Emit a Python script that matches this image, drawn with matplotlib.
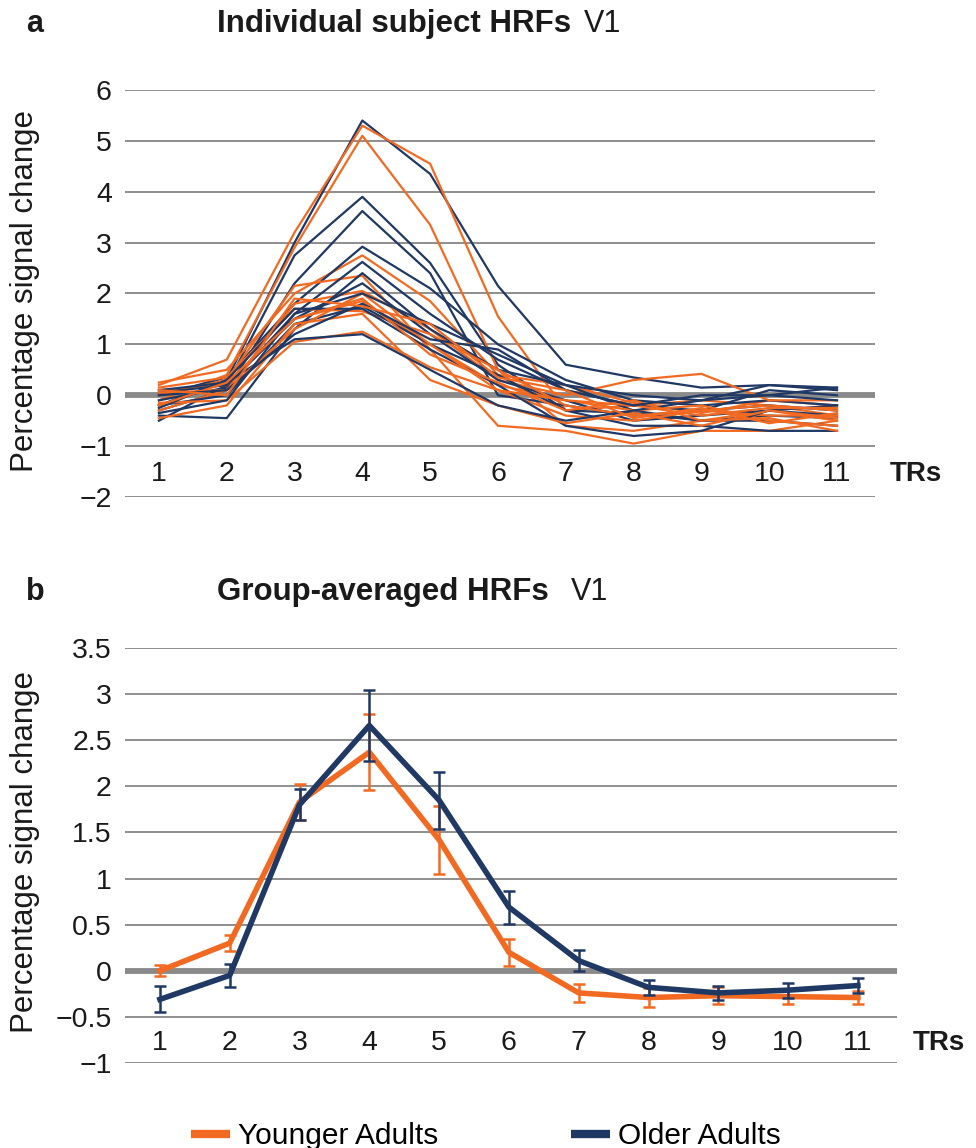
import matplotlib
matplotlib.use("Agg")
import matplotlib.pyplot as plt
from matplotlib.lines import Line2D

plt.rcParams['font.family'] = ['Liberation Sans', 'DejaVu Sans']

ORANGE = '#f26a21'
NAVY = '#1f3864'
GRID = '#8e8e8e'

trs = list(range(1, 12))
tr_labels = [str(t) for t in trs]

# panel a - individual subjects (approximate)
older_subjects = [
    [-0.20, 0.30, 3.00, 5.40, 4.35, 2.15, 0.60, 0.35, 0.15, 0.20, 0.15],
    [-0.50, 0.20, 2.75, 3.90, 2.60, 0.60, -0.30, -0.35, -0.50, -0.40, -0.45],
    [-0.30, 0.10, 2.20, 3.62, 2.40, 0.00, -0.20, -0.40, -0.30, -0.20, -0.30],
    [0.00, 0.35, 1.80, 2.92, 2.10, 1.00, 0.30, -0.10, -0.20, -0.10, -0.20],
    [-0.10, 0.15, 1.60, 2.62, 1.60, 0.70, 0.10, -0.20, -0.30, 0.10, 0.00],
    [-0.40, -0.45, 1.30, 2.40, 1.30, 0.50, 0.20, -0.30, -0.50, -0.50, -0.60],
    [0.05, 0.20, 1.50, 2.20, 1.20, 0.30, -0.10, -0.50, -0.40, -0.30, -0.40],
    [-0.20, 0.00, 1.40, 1.75, 1.00, 0.40, -0.30, -0.60, -0.60, -0.70, -0.70],
    [-0.25, 0.30, 1.70, 1.70, 0.90, 0.20, -0.60, -0.80, -0.70, -0.30, -0.20],
    [0.10, 0.25, 1.10, 1.20, 0.50, -0.20, -0.50, -0.30, -0.10, 0.00, 0.15],
    [-0.35, -0.10, 1.60, 2.00, 1.40, 0.80, 0.20, 0.00, -0.10, 0.20, 0.10],
    [0.00, 0.10, 1.20, 1.80, 1.10, 0.90, 0.10, -0.20, 0.00, 0.00, -0.10],
]
younger_subjects = [
    [0.20, 0.70, 3.20, 5.30, 4.55, 1.55, -0.30, -0.20, -0.10, -0.20, -0.40],
    [-0.10, 0.40, 2.90, 5.10, 3.35, 0.50, -0.60, -0.70, -0.50, -0.30, -0.50],
    [0.25, 0.50, 2.00, 2.75, 1.85, 0.40, 0.20, -0.15, -0.35, -0.10, -0.20],
    [0.00, 0.30, 2.15, 2.35, 0.90, -0.60, -0.70, -0.95, -0.70, -0.70, -0.50],
    [-0.30, 0.10, 1.80, 2.05, 1.30, 0.30, 0.00, 0.30, 0.42, -0.10, -0.10],
    [0.10, 0.20, 1.50, 1.85, 1.00, 0.20, -0.10, -0.30, -0.20, -0.50, -0.60],
    [0.15, 0.35, 1.70, 1.65, 1.20, 0.50, -0.20, -0.40, -0.30, -0.20, -0.30],
    [-0.15, -0.10, 1.05, 1.25, 0.55, 0.10, -0.40, -0.50, -0.30, -0.40, -0.40],
    [-0.45, -0.20, 1.40, 1.60, 0.30, -0.20, -0.55, -0.35, -0.60, -0.30, -0.45],
    [0.05, 0.10, 1.30, 2.00, 1.00, 0.10, -0.10, -0.20, -0.40, -0.25, -0.25],
    [-0.20, 0.25, 1.50, 1.90, 0.80, 0.25, -0.30, -0.10, -0.50, -0.45, -0.70],
    [0.10, 0.00, 1.90, 1.75, 1.40, 0.35, 0.10, -0.45, -0.25, -0.55, -0.35],
]

# panel b - group averages and error bars
younger_mean = [0.00, 0.30, 1.83, 2.37, 1.42, 0.20, -0.24, -0.29, -0.27, -0.28, -0.29]
younger_err = [0.06, 0.09, 0.19, 0.41, 0.37, 0.15, 0.10, 0.10, 0.09, 0.075, 0.07]
older_mean = [-0.31, -0.05, 1.80, 2.66, 1.85, 0.69, 0.11, -0.18, -0.24, -0.21, -0.16]
older_err = [0.14, 0.125, 0.17, 0.38, 0.31, 0.18, 0.11, 0.08, 0.08, 0.08, 0.085]

W, H = 976, 1148
fig = plt.figure(figsize=(W / 100, H / 100), dpi=100)


def fx(x):
    return x / W


def fy(y):
    return 1 - y / H


ax_a = fig.add_axes([fx(125), fy(497), 750 / W, 407 / H])
ax_b = fig.add_axes([fx(125), fy(1063), 772 / W, 415 / H])

TICK_FS = 20.5


def style(ax, ylim, yticks, ylabels, xlab_y):
    ax.set_xlim(0.5, 11.56)
    ax.set_ylim(*ylim)
    ax.set_yticks(yticks)
    ax.set_yticklabels(ylabels)
    ax.set_xticks([])
    for s in ax.spines.values():
        s.set_visible(False)
    ax.tick_params(axis='y', length=0, pad=9.5, labelsize=TICK_FS, labelcolor='#1a1a1a')
    ax.yaxis.grid(True, color=GRID, lw=1.4)
    ax.set_axisbelow(True)
    ax.axhline(0, color='#8a8a8a', lw=4.2, zorder=1.5)
    for t, lab in zip(trs, tr_labels):
        ax.text(t, xlab_y, lab, ha='center', va='center', fontsize=TICK_FS, color='#1a1a1a')
    ax.text(11.78, xlab_y, 'TRs', ha='left', va='center', fontsize=20,
            fontweight='bold', color='#1a1a1a', clip_on=False)


# panel a
style(ax_a, (-2, 6), list(range(-2, 7)), [f'{v}'.replace('-', '\u2212') for v in range(-2, 7)], -1.55)
for o, y in zip(older_subjects, younger_subjects):
    ax_a.plot(trs, o, color=NAVY, lw=1.6, zorder=3)
    ax_a.plot(trs, y, color=ORANGE, lw=1.6, zorder=3)

# panel b
b_ticks = [-1, -0.5, 0, 0.5, 1, 1.5, 2, 2.5, 3, 3.5]
b_labels = ['\u22121', '\u22120.5', '0', '0.5', '1', '1.5', '2', '2.5', '3', '3.5']
style(ax_b, (-1, 3.5), b_ticks, b_labels, -0.78)
ax_b.errorbar(trs, younger_mean, yerr=younger_err, color=ORANGE, lw=4,
              elinewidth=1.8, capsize=4.5, capthick=1.8, zorder=3)
ax_b.errorbar(trs, older_mean, yerr=older_err, color=NAVY, lw=4,
              elinewidth=1.8, capsize=4.5, capthick=1.8, zorder=4)

# titles
for letter, title, base in [('a', 'Individual subject HRFs', 32), ('b', 'Group-averaged HRFs', 600)]:
    fig.text(fx(26), fy(base), letter, fontsize=22, fontweight='bold', color='#1a1a1a', va='baseline')
    fig.text(fx(217), fy(base), title, fontsize=22.5, fontweight='bold', color='#1a1a1a', va='baseline')

fig.text(fx(584), fy(32), 'V1', fontsize=22, color='#1a1a1a', va='baseline')
fig.text(fx(571), fy(600), 'V1', fontsize=22, color='#1a1a1a', va='baseline')

# y labels
fig.text(fx(25), fy(291), 'Percentage signal change', rotation=90, fontsize=22.5,
         ha='center', va='center', color='#1a1a1a')
fig.text(fx(25), fy(852), 'Percentage signal change', rotation=90, fontsize=22.5,
         ha='center', va='center', color='#1a1a1a')

# legend
handles = [Line2D([], [], color=ORANGE, lw=6, solid_capstyle='butt'),
           Line2D([], [], color=NAVY, lw=6, solid_capstyle='butt')]
fig.legend(handles, ['Younger Adults', 'Older Adults'], ncol=2, frameon=False,
           loc='center left', bbox_to_anchor=(fx(191), fy(1136)),
           fontsize=21.5, handlelength=1.3, handletextpad=0.28,
           columnspacing=4.45, borderpad=0, borderaxespad=0)

fig.savefig('out.png', dpi=100)
